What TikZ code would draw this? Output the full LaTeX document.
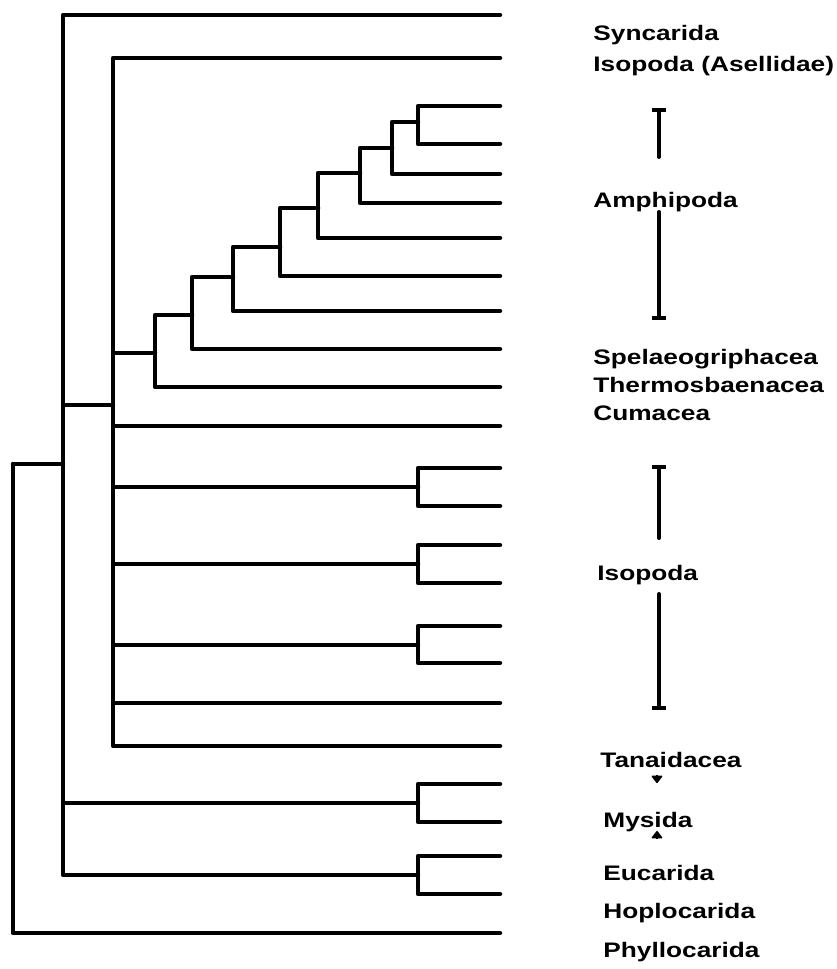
\documentclass[tikz,border=0pt]{standalone}
\usepackage{fontspec}
\setmainfont[FakeStretch=1.25]{Liberation Sans}
\usetikzlibrary{arrows.meta}
\tikzset{
  branch/.style={line width=2.25pt, line cap=round, line join=round},
  rangebar/.style={line width=2pt, line cap=round},
  taxon/.style={anchor=base west, inner sep=0pt, font=\fontsize{10.5}{12}\selectfont\bfseries},
  pointer/.style={line width=0.8pt, -{Triangle[width=6pt,length=4pt,round]}},
}
\begin{document}
\begin{tikzpicture}[x=0.5pt, y=-0.5pt]
	\useasboundingbox (0,0) rectangle (836,969);
	\foreach \n/\y in {1/15,2/58,3/106,4/144,5/174,6/203,7/238,8/276,9/311,10/349,11/387,12/426,13/468,14/506,15/545,16/583,17/626,18/663,19/703,20/746,21/784,22/822,23/856,24/894,25/933}
		\coordinate (l\n) at (500,\y);
	\coordinate (root) at (13,464);
	\coordinate (a) at (63,464);
	\coordinate (b) at (113,405);
	\coordinate (c) at (155,353);
	\coordinate (d) at (192,315);
	\coordinate (e) at (233,277);
	\coordinate (f) at (280,247);
	\coordinate (g) at (318,208);
	\coordinate (h) at (360,173);
	\coordinate (i) at (392,148);
	\coordinate (j) at (418,122);
	\coordinate (p1) at (418,487);
	\coordinate (p2) at (418,564);
	\coordinate (p3) at (418,645);
	\coordinate (p4) at (418,803);
	\coordinate (p5) at (418,875);
	\draw[branch] (root) |- (a) (root) |- (l25);
	\draw[branch] (a) |- (l1) (a) |- (b) (a) |- (p4) (a) |- (p5);
	\draw[branch] (b) |- (l2) (b) |- (c) (b) |- (l12) (b) |- (p1) (b) |- (p2) (b) |- (p3) (b) |- (l19) (b) |- (l20);
	\draw[branch] (c) |- (d) (c) |- (l11);
	\draw[branch] (d) |- (e) (d) |- (l10);
	\draw[branch] (e) |- (f) (e) |- (l9);
	\draw[branch] (f) |- (g) (f) |- (l8);
	\draw[branch] (g) |- (h) (g) |- (l7);
	\draw[branch] (h) |- (i) (h) |- (l6);
	\draw[branch] (i) |- (j) (i) |- (l5);
	\draw[branch] (j) |- (l3) (j) |- (l4);
	\draw[branch] (p1) |- (l13) (p1) |- (l14);
	\draw[branch] (p2) |- (l15) (p2) |- (l16);
	\draw[branch] (p3) |- (l17) (p3) |- (l18);
	\draw[branch] (p4) |- (l21) (p4) |- (l22);
	\draw[branch] (p5) |- (l23) (p5) |- (l24);

	\node[taxon] (syn) at (593,40) {Syncarida};
	\node[taxon] (ase) at (593,71) {Isopoda (Asellidae)};
	\node[taxon] (amp) at (593,207) {Amphipoda};
	\node[taxon] (spe) at (593,364) {Spelaeogriphacea};
	\node[taxon] (the) at (593,392) {Thermosbaenacea};
	\node[taxon] (cum) at (593,420) {Cumacea};
	\node[taxon] (iso) at (597,580) {Isopoda};
	\node[taxon] (tan) at (600,767) {Tanaidacea};
	\node[taxon] (mys) at (603,827) {Mysida};
	\node[taxon] (euc) at (603,880) {Eucarida};
	\node[taxon] (hop) at (603,918) {Hoplocarida};
	\node[taxon] (phy) at (603,957) {Phyllocarida};

	\coordinate (amtop) at (659,108);
	\coordinate (amup) at (659,157);
	\coordinate (amlow) at (659,212);
	\coordinate (ambot) at (659,320);
	\coordinate (istop) at (659,465);
	\coordinate (isup) at (659,538);
	\coordinate (islow) at (659,594);
	\coordinate (isbot) at (659,710);
	\coordinate (tantop) at (657,775);
	\coordinate (tantip) at (657,783);
	\coordinate (mystip) at (657,831);
	\coordinate (mysbot) at (657,839);
	\draw[rangebar, {Bar[width=7pt]}-] (amtop) -- (amup);
	\draw[rangebar, -{Bar[width=7pt]}] (amlow) -- (ambot);
	\draw[rangebar, {Bar[width=7pt]}-] (istop) -- (isup);
	\draw[rangebar, -{Bar[width=7pt]}] (islow) -- (isbot);
	\draw[pointer] (tantop) -- (tantip);
	\draw[pointer] (mysbot) -- (mystip);
\end{tikzpicture}
\end{document}
